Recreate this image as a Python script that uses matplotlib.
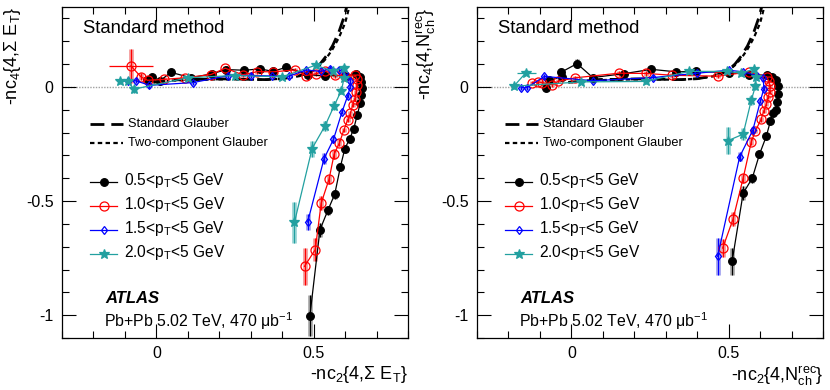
import matplotlib
matplotlib.use("Agg")
import matplotlib.pyplot as plt
from matplotlib.lines import Line2D
from matplotlib.ticker import MultipleLocator

plt.rcParams['font.family'] = ['Liberation Sans', 'DejaVu Sans']
plt.rcParams['mathtext.fontset'] = 'custom'
plt.rcParams['mathtext.rm'] = 'Liberation Sans'
plt.rcParams['mathtext.it'] = 'Liberation Sans:italic'
plt.rcParams['mathtext.bf'] = 'Liberation Sans:bold'
plt.rcParams['mathtext.default'] = 'regular'

# ---------------- data: left panel (Sigma E_T) ----------------
L_blk_x = [0.488, 0.520, 0.545, 0.567, 0.585, 0.599, 0.615, 0.627, 0.639, 0.648, 0.652, 0.654, 0.652, 0.647, 0.636, 0.600, 0.535, 0.481, 0.412, 0.371, 0.329, 0.280, 0.222, 0.178, 0.110, 0.046, 0.010, -0.014, -0.030]
L_blk_y = [-1.003, -0.626, -0.541, -0.470, -0.350, -0.271, -0.226, -0.185, -0.121, -0.072, -0.035, -0.005, 0.022, 0.045, 0.055, 0.050, 0.048, 0.054, 0.086, 0.068, 0.079, 0.073, 0.076, 0.058, 0.040, 0.064, 0.025, 0.042, 0.030]
L_blk_e = [0.09, 0.03, 0.02, 0.02, 0.015, 0.01, 0.01, 0.01, 0.01, 0.01, 0.01, 0.01, 0.01, 0.01, 0.01, 0.01, 0.01, 0.01, 0.01, 0.01, 0.01, 0.01, 0.01, 0.01, 0.01, 0.01, 0.01, 0.01, 0.01]

L_red_x = [0.471, 0.505, 0.524, 0.549, 0.565, 0.582, 0.596, 0.608, 0.617, 0.624, 0.631, 0.635, 0.637, 0.637, 0.632, 0.600, 0.569, 0.537, 0.508, 0.475, 0.440, 0.370, 0.321, 0.275, 0.219, 0.173, 0.090, 0.024, -0.028, -0.049, -0.081]
L_red_y = [-0.786, -0.713, -0.509, -0.404, -0.295, -0.245, -0.189, -0.145, -0.116, -0.080, -0.052, -0.022, 0.007, 0.035, 0.052, 0.050, 0.051, 0.070, 0.058, 0.050, 0.074, 0.066, 0.067, 0.053, 0.082, 0.054, 0.040, 0.033, 0.029, 0.044, 0.092]
L_red_e = [0.08, 0.05, 0.03, 0.02, 0.02, 0.015, 0.01, 0.01, 0.01, 0.01, 0.01, 0.01, 0.01, 0.01, 0.01, 0.01, 0.01, 0.01, 0.01, 0.01, 0.01, 0.01, 0.01, 0.01, 0.01, 0.01, 0.01, 0.01, 0.01, 0.015, 0.073]
L_red_xe = [0, 0, 0, 0, 0, 0, 0, 0, 0, 0, 0, 0, 0, 0, 0, 0, 0, 0, 0, 0, 0, 0, 0, 0, 0, 0, 0, 0, 0, 0, 0.069]

L_blu_x = [0.481, 0.533, 0.563, 0.590, 0.608, 0.616, 0.617, 0.600, 0.580, 0.552, 0.522, 0.476, 0.421, 0.368, 0.300, 0.229, 0.117, -0.022, -0.065, -0.089]
L_blu_y = [-0.592, -0.314, -0.230, -0.110, -0.040, 0.000, 0.027, 0.060, 0.076, 0.080, 0.068, 0.074, 0.047, 0.048, 0.050, 0.050, 0.019, 0.007, 0.027, 0.026]
L_blu_e = [0.035, 0.025, 0.015, 0.01, 0.01, 0.01, 0.01, 0.01, 0.01, 0.01, 0.01, 0.01, 0.01, 0.01, 0.01, 0.01, 0.01, 0.01, 0.01, 0.01]

L_tea_x = [0.439, 0.495, 0.536, 0.565, 0.588, 0.597, 0.596, 0.560, 0.506, 0.400, 0.250, 0.100, -0.072, -0.090, -0.117]
L_tea_y = [-0.593, -0.270, -0.171, -0.083, -0.016, 0.040, 0.085, 0.070, 0.095, 0.044, 0.050, 0.040, -0.010, 0.024, 0.024]
L_tea_e = [0.09, 0.035, 0.02, 0.02, 0.015, 0.01, 0.01, 0.01, 0.01, 0.01, 0.01, 0.01, 0.015, 0.01, 0.01]

# ---------------- data: right panel (N_ch^rec) ----------------
R_blk_x = [0.511, 0.546, 0.575, 0.598, 0.620, 0.633, 0.641, 0.649, 0.654, 0.657, 0.657, 0.652, 0.638, 0.622, 0.564, 0.500, 0.397, 0.334, 0.254, 0.167, 0.068, 0.018, -0.033, -0.030, -0.070, -0.081]
R_blk_y = [-0.764, -0.466, -0.400, -0.295, -0.215, -0.148, -0.116, -0.099, -0.065, -0.029, 0.003, 0.029, 0.044, 0.051, 0.054, 0.063, 0.068, 0.066, 0.077, 0.058, 0.041, 0.102, 0.064, 0.045, 0.029, -0.004]
R_blk_e = [0.06, 0.03, 0.02, 0.015, 0.01, 0.01, 0.01, 0.01, 0.01, 0.01, 0.01, 0.01, 0.01, 0.01, 0.01, 0.01, 0.01, 0.01, 0.01, 0.01, 0.01, 0.02, 0.02, 0.01, 0.01, 0.01]

R_red_x = [0.481, 0.514, 0.546, 0.572, 0.585, 0.603, 0.612, 0.620, 0.625, 0.631, 0.631, 0.627, 0.622, 0.564, 0.467, 0.321, 0.238, 0.150, 0.013, -0.041, -0.060, -0.094, -0.105, -0.125]
R_red_y = [-0.706, -0.579, -0.400, -0.240, -0.193, -0.142, -0.105, -0.073, -0.044, -0.022, 0.003, 0.026, 0.044, 0.066, 0.047, 0.051, 0.059, 0.060, 0.040, 0.025, 0.010, 0.019, 0.022, 0.018]
R_red_e = [0.04, 0.03, 0.02, 0.015, 0.01, 0.01, 0.01, 0.01, 0.01, 0.01, 0.01, 0.01, 0.01, 0.01, 0.01, 0.01, 0.01, 0.01, 0.01, 0.01, 0.01, 0.01, 0.01, 0.01]

R_blu_x = [0.465, 0.535, 0.577, 0.601, 0.612, 0.610, 0.590, 0.546, 0.500, 0.400, 0.260, 0.068, -0.086, -0.141, -0.160]
R_blu_y = [-0.742, -0.306, -0.189, -0.061, -0.007, 0.037, 0.050, 0.066, 0.073, 0.060, 0.041, 0.027, 0.046, -0.003, -0.003]
R_blu_e = [0.08, 0.02, 0.015, 0.01, 0.01, 0.01, 0.01, 0.01, 0.01, 0.01, 0.01, 0.01, 0.01, 0.01, 0.01]

R_tea_x = [0.497, 0.546, 0.572, 0.585, 0.588, 0.580, 0.540, 0.495, 0.374, 0.236, 0.030, -0.183, -0.144]
R_tea_y = [-0.236, -0.207, -0.058, 0.003, 0.044, 0.078, 0.060, 0.068, 0.068, 0.024, 0.022, 0.003, 0.063]
R_tea_e = [0.06, 0.025, 0.02, 0.015, 0.01, 0.01, 0.01, 0.01, 0.01, 0.01, 0.01, 0.01, 0.01]
R_tea_xe = [0, 0, 0, 0, 0, 0, 0, 0, 0, 0, 0, 0.01, 0.03]

# ---------------- Glauber model curves ----------------
gs_x = [-0.01, 0.05, 0.10, 0.15, 0.20, 0.25, 0.30, 0.35, 0.40, 0.45, 0.48, 0.50, 0.52, 0.54, 0.56, 0.58, 0.595, 0.607]
gs_y = [0.020, 0.030, 0.033, 0.033, 0.035, 0.035, 0.033, 0.032, 0.036, 0.047, 0.060, 0.075, 0.100, 0.135, 0.180, 0.240, 0.300, 0.360]
g2_x = [0.00, 0.05, 0.10, 0.15, 0.20, 0.25, 0.30, 0.35, 0.40, 0.45, 0.48, 0.50, 0.52, 0.54, 0.56, 0.58, 0.60, 0.615]
g2_y = [0.020, 0.028, 0.030, 0.032, 0.033, 0.033, 0.032, 0.032, 0.036, 0.046, 0.058, 0.072, 0.095, 0.125, 0.165, 0.215, 0.280, 0.360]

series_labels = ["0.5<p$_\\mathrm{T}$<5 GeV", "1.0<p$_\\mathrm{T}$<5 GeV",
                 "1.5<p$_\\mathrm{T}$<5 GeV", "2.0<p$_\\mathrm{T}$<5 GeV"]
model_labels = ["Standard Glauber", "Two-component Glauber"]

TEAL = '#22a0a0'
styles = [
    dict(color='black', marker='o', ms=5.5, mfc='black', sys='#b0b0b0'),
    dict(color='red', marker='o', ms=6.5, mfc='none', sys='#f5a0a0'),
    dict(color='blue', marker='d', ms=4.5, mfc='none', sys='#a8a8f0'),
    dict(color=TEAL, marker='*', ms=7, mfc=TEAL, sys='#a0d8d8'),
]

fig = plt.figure(figsize=(8.3, 3.9), dpi=100)
ax1 = fig.add_axes([0.0747, 0.1333, 0.4169, 0.8487])
ax2 = fig.add_axes([0.5747, 0.1333, 0.4169, 0.8487])

def draw(ax, data, ylab, xlab):
    ax.set_xlim(-0.3, 0.8)
    ax.set_ylim(-1.1, 0.35)
    ax.axhline(0, color='#a0a0a0', lw=1.0, ls=(0, (1, 1)), zorder=1)
    ax.plot(gs_x, gs_y, color='black', lw=2.0, ls=(0, (5, 2.5)), zorder=2)
    ax.plot(g2_x, g2_y, color='black', lw=1.6, ls=(0, (2, 1.5)), zorder=2)
    for (x, y, e, xe), st in zip(data, styles):
        c = st['color']
        ax.errorbar(x, y, yerr=e, fmt='none', ecolor=st['sys'], elinewidth=3.5, capsize=0, zorder=3)
        ax.errorbar(x, y, yerr=e, xerr=xe, fmt='none', ecolor=c, elinewidth=0.9, capsize=0, zorder=4)
        ax.plot(x, y, color=c, lw=0.9, marker=st['marker'], ms=st['ms'], mfc=st['mfc'],
                mec=c, mew=0.9, zorder=5)
    ax.xaxis.set_major_locator(MultipleLocator(0.5))
    ax.xaxis.set_minor_locator(MultipleLocator(0.1))
    ax.yaxis.set_major_locator(MultipleLocator(0.5))
    ax.yaxis.set_minor_locator(MultipleLocator(0.1))
    ax.tick_params(which='both', direction='in', top=True, right=True, labelsize=11.5, pad=6)
    ax.tick_params(which='major', length=10, width=0.8)
    ax.tick_params(which='minor', length=5, width=0.8)
    fmt = plt.FuncFormatter(lambda v, p: '0' if abs(v) < 1e-9 else ('%g' % v))
    ax.xaxis.set_major_formatter(fmt)
    ax.yaxis.set_major_formatter(fmt)
    for s in ax.spines.values():
        s.set_linewidth(0.9)
    ax.set_ylabel(ylab, fontsize=13, loc='top', labelpad=2)
    ax.set_xlabel(xlab, fontsize=13, loc='right', labelpad=2)

    T = ax.transAxes
    ax.text(0.06, 0.935, "Standard method", transform=T, fontsize=13.3, va='center', ha='left')
    ax.add_line(Line2D([0.08, 0.175], [0.648, 0.648], transform=T, color='black', lw=2.0, ls=(0, (5, 2.5))))
    ax.add_line(Line2D([0.08, 0.175], [0.588, 0.588], transform=T, color='black', lw=1.6, ls=(0, (2, 1.5))))
    ax.text(0.19, 0.648, model_labels[0], transform=T, fontsize=9.2, va='center')
    ax.text(0.19, 0.588, model_labels[1], transform=T, fontsize=9.2, va='center')
    ys = [0.470, 0.399, 0.327, 0.254]
    for yy, st, lab in zip(ys, styles, series_labels):
        ax.add_line(Line2D([0.08, 0.16], [yy, yy], transform=T, color=st['color'], lw=0.9))
        ax.add_line(Line2D([0.12], [yy], transform=T, color=st['color'], marker=st['marker'],
                           ms=st['ms'], mfc=st['mfc'], mec=st['color'], mew=0.9, ls='none'))
        ax.text(0.18, yy + 0.005, lab, transform=T, fontsize=11.2, va='center')
    ax.text(0.125, 0.118, "ATLAS", transform=T, fontsize=12, fontweight='bold', fontstyle='italic', va='center')
    ax.text(0.12, 0.05, "Pb+Pb 5.02 TeV, 470 $\\mu$b$^{-1}$", transform=T, fontsize=11.4, va='center')

L_zero = [0] * 40
draw(ax1, [(L_blk_x, L_blk_y, L_blk_e, L_zero[:len(L_blk_x)]),
           (L_red_x, L_red_y, L_red_e, L_red_xe),
           (L_blu_x, L_blu_y, L_blu_e, L_zero[:len(L_blu_x)]),
           (L_tea_x, L_tea_y, L_tea_e, L_zero[:len(L_tea_x)])],
     "-nc$_4${4,$\\Sigma$ E$_\\mathrm{T}$}", "-nc$_2${4,$\\Sigma$ E$_\\mathrm{T}$}")
draw(ax2, [(R_blk_x, R_blk_y, R_blk_e, L_zero[:len(R_blk_x)]),
           (R_red_x, R_red_y, R_red_e, L_zero[:len(R_red_x)]),
           (R_blu_x, R_blu_y, R_blu_e, L_zero[:len(R_blu_x)]),
           (R_tea_x, R_tea_y, R_tea_e, R_tea_xe)],
     "-nc$_4${4,N$_\\mathrm{ch}^\\mathrm{rec}$}", "-nc$_2${4,N$_\\mathrm{ch}^\\mathrm{rec}$}")

fig.savefig("out.png", dpi=100)
